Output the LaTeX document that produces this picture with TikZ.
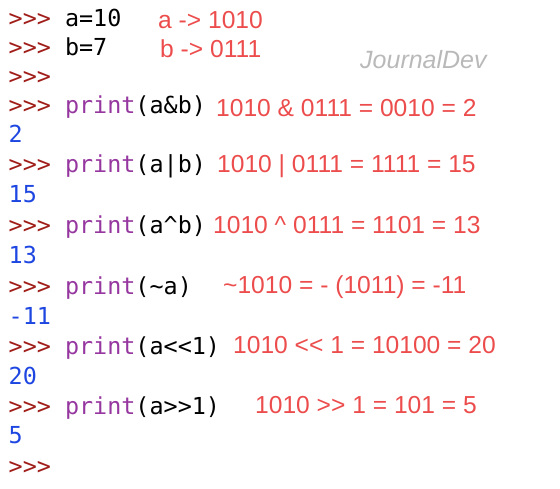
\documentclass[tikz,border=0pt]{standalone}
\usepackage{fontspec}
\setmainfont{Liberation Sans}[Ligatures=TeXOff]
\setmonofont{DejaVu Sans Mono}
\definecolor{promptred}{RGB}{160,30,25}
\definecolor{kwpurple}{RGB}{150,55,160}
\definecolor{outblue}{RGB}{30,70,225}
\definecolor{notered}{RGB}{236,76,76}
\newcommand{\pr}{\textcolor{promptred}{>>>}}
\newcommand{\kw}[1]{\textcolor{kwpurple}{#1}}

\begin{document}
\begin{tikzpicture}[x=1pt,y=-1pt,
    code/.style={anchor=base west,inner sep=0pt,font=\ttfamily\fontsize{23.4}{23.4}\selectfont},
    result/.style={code,text=outblue},
    note/.style={anchor=base west,inner sep=0pt,text=notered,font=\fontsize{24.6}{24.6}\selectfont}]
    \useasboundingbox (0,0) rectangle (560,488);

    % Interpreter lines
    \node[code] (defa) at (8.5,26) {\pr{} a=10};
    \node[code] (defb) at (8.5,55) {\pr{} b=7};
    \node[code] (blank) at (8.5,84) {\pr};
    \node[code] (andl) at (8.5,113) {\pr{} \kw{print}(a\&b)};
    \node[result] (andout) at (8.5,142) {2};
    \node[code] (orl) at (8.5,172) {\pr{} \kw{print}(a|b)};
    \node[result] (orout) at (8.5,202) {15};
    \node[code] (xorl) at (8.5,233) {\pr{} \kw{print}(a\textasciicircum b)};
    \node[result] (xorout) at (8.5,263) {13};
    \node[code] (notl) at (8.5,294) {\pr{} \kw{print}(\textasciitilde a)};
    \node[result] (notout) at (8.5,324) {-11};
    \node[code] (shll) at (8.5,354) {\pr{} \kw{print}(a<<1)};
    \node[result] (shlout) at (8.5,384) {20};
    \node[code] (shrl) at (8.5,414) {\pr{} \kw{print}(a>>1)};
    \node[result] (shrout) at (8.5,443) {5};
    \node[code] (last) at (8.5,474) {\pr};

    % Notes
    \node[note] (bina) at (158,28) {a -> 1010};
    \node[note] (binb) at (160,57) {b -> 0111};
    \node[note] (andn) at (216,116) {1010 \& 0111 = 0010 = 2};
    \node[note] (orn) at (217,172) {1010 | 0111 = 1111 = 15};
    \node[note] (xorn) at (213,233) {1010 \textasciicircum{} 0111 = 1101 = 13};
    \node[note] (notn) at (223,293) {\textasciitilde1010 = - (1011) = -11};
    \node[note] (shln) at (233,353) {1010 << 1 = 10100 = 20};
    \node[note] (shrn) at (255,413) {1010 >> 1 = 101 = 5};

    % Signature
    \node[anchor=base west,inner sep=0pt,text=gray!55,font=\itshape\fontsize{25}{25}\selectfont] (sign) at (360,68) {JournalDev};
\end{tikzpicture}
\end{document}
